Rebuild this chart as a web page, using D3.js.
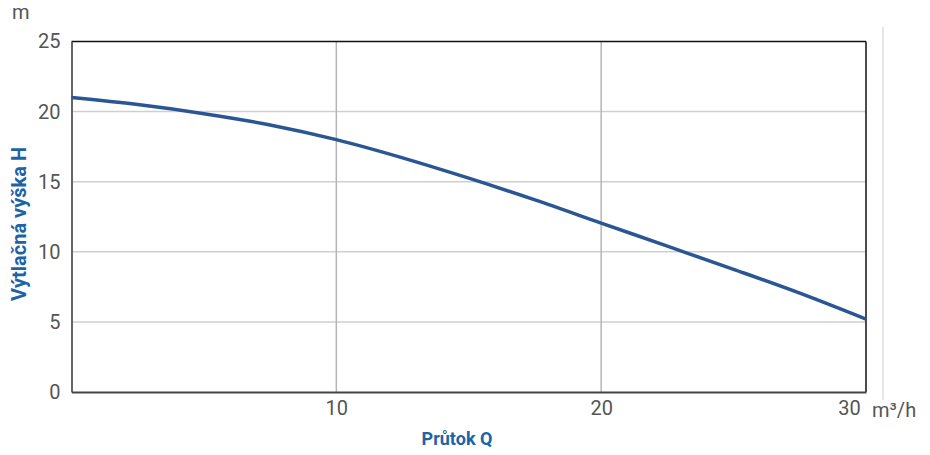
<!DOCTYPE html>
<html lang="cs">
<head>
<meta charset="UTF-8">
<title>Výtlačná výška H</title>
<script src="https://d3js.org/d3.v7.min.js"></script>
<style>
  body { margin: 0; background: #fff; font-family: Roboto, Arial, sans-serif; }
  .tick text { fill: #555; font-size: 20px; font-family: Roboto, sans-serif; }
  .title { fill: #1d63a6; font-weight: bold; font-family: Roboto, sans-serif; }
</style>
</head>
<body>
<div id="chart"></div>
<script>
  // flow Q (m3/h) and head H (m)
  const flow = [0, 2.5, 5, 7.5, 10, 12.5, 15, 17.5, 20, 22.5, 25, 27.5, 30];
  const head = [21.0, 20.5, 19.85, 19.05, 18.0, 16.7, 15.25, 13.7, 12.05, 10.4, 8.75, 7.05, 5.2];
  const xTicks = [10, 20, 30];
  const yTicks = [0, 5, 10, 15, 20, 25];

  const width = 930, height = 455;
  const margin = { top: 41.5, right: 64, bottom: 63, left: 71.5 };

  const svg = d3.select("#chart").append("svg")
      .attr("width", width)
      .attr("height", height);

  const x = d3.scaleLinear().domain([0, 30]).range([margin.left, width - margin.right]);
  const y = d3.scaleLinear().domain([0, 25]).range([height - margin.bottom, margin.top]);

  // faint line to the right of the plot
  svg.append("line")
      .attr("x1", 883).attr("x2", 883)
      .attr("y1", 27).attr("y2", 400)
      .attr("stroke", "#e6e6e6").attr("stroke-width", 2);

  // horizontal grid
  svg.append("g")
      .selectAll("line")
      .data(yTicks.filter(d => d > 0 && d < 25))
      .join("line")
      .attr("x1", x(0)).attr("x2", x(30))
      .attr("y1", d => y(d)).attr("y2", d => y(d))
      .attr("stroke", "#cfcfcf").attr("stroke-width", 1.5);

  // vertical grid
  svg.append("g")
      .selectAll("line")
      .data(xTicks.filter(d => d < 30))
      .join("line")
      .attr("x1", d => x(d)).attr("x2", d => x(d))
      .attr("y1", y(25)).attr("y2", y(0))
      .attr("stroke", "#b5b5b5").attr("stroke-width", 1.5);

  // frame: top / right black, left / bottom grey
  svg.append("line")
      .attr("x1", x(0)).attr("x2", x(30)).attr("y1", y(25)).attr("y2", y(25))
      .attr("stroke", "#111").attr("stroke-width", 1.5);
  svg.append("line")
      .attr("x1", x(30)).attr("x2", x(30)).attr("y1", y(25)).attr("y2", y(0))
      .attr("stroke", "#111").attr("stroke-width", 1.5);

  // axes
  const yAxis = svg.append("g")
      .attr("transform", `translate(${x(0)},0)`)
      .call(d3.axisLeft(y).tickValues(yTicks).tickSize(0).tickPadding(11));
  yAxis.select(".domain").attr("stroke", "#666").attr("stroke-width", 2);

  const xAxis = svg.append("g")
      .attr("transform", `translate(0,${y(0)})`)
      .call(d3.axisBottom(x).tickValues(xTicks).tickSize(0).tickPadding(9));
  xAxis.select(".domain").attr("stroke", "#444").attr("stroke-width", 2);
  xAxis.selectAll(".tick text")
      .attr("dx", d => d === 30 ? -17 : 0);

  // units
  svg.append("text")
      .attr("x", x(30) + 6).attr("y", y(0) + 25)
      .attr("fill", "#555").attr("font-size", 20)
      .text("m³/h");
  svg.append("text")
      .attr("x", 12).attr("y", 19)
      .attr("fill", "#555").attr("font-size", 20)
      .text("m");

  // axis titles
  svg.append("text")
      .attr("class", "title")
      .attr("font-size", 18)
      .attr("text-anchor", "middle")
      .attr("x", 457).attr("y", 445)
      .text("Průtok Q");
  svg.append("text")
      .attr("class", "title")
      .attr("font-size", 20)
      .attr("text-anchor", "middle")
      .attr("transform", "translate(26,224) rotate(-90)")
      .text("Výtlačná výška H");

  // curve
  const pts = flow.map((q, i) => [q, head[i]]);
  svg.append("path")
      .datum(pts)
      .attr("fill", "none")
      .attr("stroke", "#2a5693")
      .attr("stroke-width", 3.5)
      .attr("d", d3.line().x(d => x(d[0])).y(d => y(d[1])).curve(d3.curveMonotoneX));
</script>
</body>
</html>
